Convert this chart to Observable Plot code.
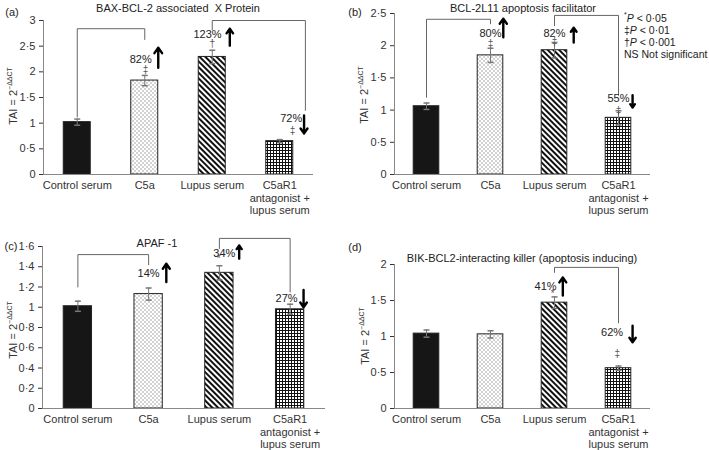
<!DOCTYPE html>
<html>
<head>
<meta charset="utf-8">
<script src="https://cdn.jsdelivr.net/npm/d3@7"></script>
<script src="https://cdn.jsdelivr.net/npm/@observablehq/plot@0.6"></script>
<style>
  html, body { margin: 0; padding: 0; background: #fff; }
  #chart { position: relative; width: 709px; height: 450px; font-family: Arial, "Liberation Sans", Helvetica, sans-serif; color: #333; overflow: hidden; }
  .abs { position: absolute; white-space: nowrap; }
  .center { transform: translate(-50%, -50%); }
  .ylab { transform: translate(-50%, -50%) rotate(-90deg); font-size: 11px; }
  .ylab sup { font-size: 7px; vertical-align: 5px; }
  .title { font-size: 11px; color: #222; }
  .letter { font-size: 11px; color: #222; }
  .legend { font-size: 10.5px; line-height: 12.3px; color: #222; }
  .legend sup { font-size: 7px; }
</style>
</head>
<body>
<svg width="0" height="0" style="position:absolute">
  <defs>
    <pattern id="pDots" patternUnits="userSpaceOnUse" width="4" height="4">
      <rect width="4" height="4" fill="#fff"></rect>
      <circle cx="1" cy="1" r="0.8" fill="#9a9a9a"></circle>
      <circle cx="3" cy="3" r="0.8" fill="#9a9a9a"></circle>
    </pattern>
    <pattern id="pStripes" patternUnits="userSpaceOnUse" width="4" height="4" patternTransform="rotate(-45)">
      <rect width="4" height="4" fill="#fff"></rect>
      <rect width="2" height="4" fill="#111"></rect>
    </pattern>
    <pattern id="pGrid" patternUnits="userSpaceOnUse" width="3" height="3">
      <rect width="3" height="3" fill="#fff"></rect>
      <rect width="3" height="1" fill="#111"></rect>
      <rect width="1" height="3" fill="#111"></rect>
    </pattern>
  </defs>
</svg>
<div id="chart"></div>
<script>
// ---------- data ----------
const categories = ["Control serum", "C5a", "Lupus serum", "C5aR1\nantagonist +\nlupus serum"];

const baxValues = [1.02, 1.83, 2.29, 0.65];
const baxErrors = [0.06, 0.10, 0.13, 0.03];
const bclValues = [1.06, 1.85, 1.93, 0.88];
const bclErrors = [0.05, 0.11, 0.12, 0.11];
const apafValues = [1.01, 1.13, 1.34, 0.98];
const apafErrors = [0.05, 0.06, 0.07, 0.05];
const bikValues = [1.04, 1.03, 1.47, 0.56];
const bikErrors = [0.05, 0.05, 0.08, 0.03];

const baxTicks = [0, 0.5, 1, 1.5, 2, 2.5, 3];
const bclTicks = [0, 0.5, 1, 1.5, 2, 2.5];
const apafTicks = [0, 0.2, 0.4, 0.6, 0.8, 1, 1.2, 1.4, 1.6];
const bikTicks = [0, 0.5, 1, 1.5, 2];

// annotations: [category position, value, text]
const baxPercents = [[0.94, 2.24, "82%"], [1.93, 2.73, "123%"], [3.17, 1.09, "72%"]];
const baxSigns = [[1.01, 2.03, "‡"], [2.0, 2.55, "†"], [3.19, 0.86, "‡"]];
const baxArrows = [[1.2, 2.08, 2.47], [2.26, 2.51, 2.84], [3.36, 1.15, 0.8]];
const baxBrackets = [[[0, 1.12], [0, 2.84], [1, 2.84], [1, 2.63]], [[2, 2.82], [2, 3.0], [3.38, 3.0], [3.38, 1.25]]];

const bclPercents = [[1.0, 2.19, "80%"], [2.0, 2.19, "82%"], [3.0, 1.18, "55%"]];
const bclSigns = [[1.0, 2.03, "‡"], [2.0, 2.06, "‡"], [3.0, 0.99, "‡"]];
const bclArrows = [[1.2, 2.13, 2.42], [2.3, 2.05, 2.28], [3.22, 1.23, 1.04]];
const bclBrackets = [[[0, 1.2], [0, 2.41], [1, 2.41], [1, 2.34]], [[2, 2.31], [2, 2.47], [3, 2.47], [3, 1.23]]];

const apafPercents = [[1.0, 1.33, "14%"], [2.07, 1.53, "34%"], [2.95, 1.09, "27%"]];
const apafSigns = [[1.99, 1.48, "*"]];
const apafArrows = [[1.25, 1.25, 1.43], [2.28, 1.48, 1.61], [3.19, 1.17, 1.0]];
const apafBrackets = [[[0, 1.2], [0, 1.52], [1, 1.52], [1, 1.42]], [[2, 1.58], [2, 1.68], [3, 1.68], [3, 1.15]]];

const bikPercents = [[1.86, 1.69, "41%"], [2.9, 1.06, "62%"]];
const bikSigns = [[1.97, 1.6, "*"], [2.98, 0.76, "‡"]];
const bikArrows = [[2.13, 1.57, 1.82], [3.22, 1.15, 0.92]];
const bikBrackets = [[[2, 1.89], [2, 1.96], [3, 1.96], [3, 1.19]]];

// ---------- drawing ----------
const fills = ["#161616", "url(#pDots)", "url(#pStripes)", "url(#pGrid)"];
const cap = {draw(context) { context.moveTo(-3, 0); context.lineTo(3, 0); }};
const fmt = d => String(d).replace(".", "·");

function panel(o) {
  const rows = o.values.map((v, i) => ({i, v, e: o.errors[i]}));
  const caps = rows.flatMap(d => [{i: d.i, y: d.v + d.e}, {i: d.i, y: d.v - d.e}]);
  const bracketPts = o.brackets.flatMap((b, k) => b.map(p => ({x: p[0], y: p[1], k})));
  return Plot.plot({
    width: o.width, height: o.height,
    marginLeft: o.ml, marginRight: o.mr, marginTop: o.mt, marginBottom: o.mb,
    style: {fontFamily: "Arial, 'Liberation Sans', sans-serif", fontSize: "11px", color: "#333", background: "transparent", overflow: "visible"},
    x: {domain: [-0.5, 3.5], axis: null},
    y: {domain: o.domain, ticks: o.ticks, tickFormat: fmt, tickSize: 4, tickPadding: 4, label: null},
    color: {type: "identity"},
    marks: [
      Plot.rectY(rows, {x1: d => d.i - 0.2, x2: d => d.i + 0.2, y1: 0, y2: "v", fill: d => fills[d.i], stroke: "#222", strokeWidth: 1}),
      Plot.ruleX(rows, {x: "i", y1: d => d.v - d.e, y2: d => d.v + d.e, stroke: "#777", strokeWidth: 1}),
      Plot.dot(caps, {x: "i", y: "y", symbol: cap, stroke: "#777", fill: "none", r: 3}),
      Plot.ruleX([-0.5], {stroke: "#888"}),
      Plot.ruleY([0], {stroke: "#888"}),
      Plot.line(bracketPts, {x: "x", y: "y", z: "k", stroke: "#666", strokeWidth: 1, curve: "linear"}),
      Plot.text(o.percents, {x: d => d[0], y: d => d[1], text: d => d[2], fontSize: 11, fill: "#222"}),
      Plot.text(o.signs, {x: d => d[0], y: d => d[1], text: d => d[2], fontSize: 10, fill: "#555"}),
      Plot.arrow(o.arrows, {x: d => d[0], y1: d => d[1], y2: d => d[2], stroke: "#000", strokeWidth: 2.4, headLength: 8, headAngle: 70}),
      Plot.text(categories, {x: (d, i) => i, y: 0, text: d => d, dy: 6, lineAnchor: "top", lineHeight: 1.13, fontSize: 11, fill: "#333"})
    ]
  });
}

const chart = document.getElementById("chart");
function place(svg, left, top) {
  svg.style.position = "absolute";
  svg.style.left = left + "px";
  svg.style.top = top + "px";
  chart.appendChild(svg);
}
function addText(html, cls, left, top) {
  const d = document.createElement("div");
  d.className = "abs " + cls;
  d.style.left = left + "px";
  d.style.top = top + "px";
  d.innerHTML = html;
  chart.appendChild(d);
}

place(panel({values: baxValues, errors: baxErrors, domain: [0, 3], ticks: baxTicks,
  percents: baxPercents, signs: baxSigns, arrows: baxArrows, brackets: baxBrackets,
  width: 355, height: 225, ml: 43, mr: 42, mt: 20, mb: 51}), 0, 0);
place(panel({values: bclValues, errors: bclErrors, domain: [0, 2.5], ticks: bclTicks,
  percents: bclPercents, signs: bclSigns, arrows: bclArrows, brackets: bclBrackets,
  width: 354, height: 225, ml: 39, mr: 59, mt: 13, mb: 51}), 355, 0);
place(panel({values: apafValues, errors: apafErrors, domain: [0, 1.6], ticks: apafTicks,
  percents: apafPercents, signs: apafSigns, arrows: apafArrows, brackets: apafBrackets,
  width: 355, height: 225, ml: 42, mr: 30, mt: 21, mb: 42}), 0, 225);
place(panel({values: bikValues, errors: bikErrors, domain: [0, 2], ticks: bikTicks,
  percents: bikPercents, signs: bikSigns, arrows: bikArrows, brackets: bikBrackets,
  width: 354, height: 225, ml: 39, mr: 59, mt: 39, mb: 42}), 355, 225);

// titles
addText("BAX-BCL-2 associated&nbsp; X Protein", "title center", 178, 8);
addText("BCL-2L11 apoptosis facilitator", "title center", 523, 8);
addText("APAF -1", "title center", 157, 243);
addText("BIK-BCL2-interacting killer (apoptosis inducing)", "title center", 522, 258);
// panel letters
addText("(a)", "letter center", 12, 12);
addText("(b)", "letter center", 355, 12);
addText("(c)", "letter center", 11, 246);
addText("(d)", "letter center", 355, 247);
// y-axis labels
const yl = "TAI = 2<sup>−ΔΔCT</sup>";
addText(yl, "ylab", 12, 96);
addText(yl, "ylab", 363, 95);
addText(yl, "ylab", 12, 330);
addText(yl, "ylab", 364, 336);
// legend
addText("<sup>*</sup><i>P</i> &lt; 0·05<br>‡<i>P</i> &lt; 0·01<br>†<i>P</i> &lt; 0·001<br>NS Not significant", "legend", 624, 9);
</script>
</body>
</html>
